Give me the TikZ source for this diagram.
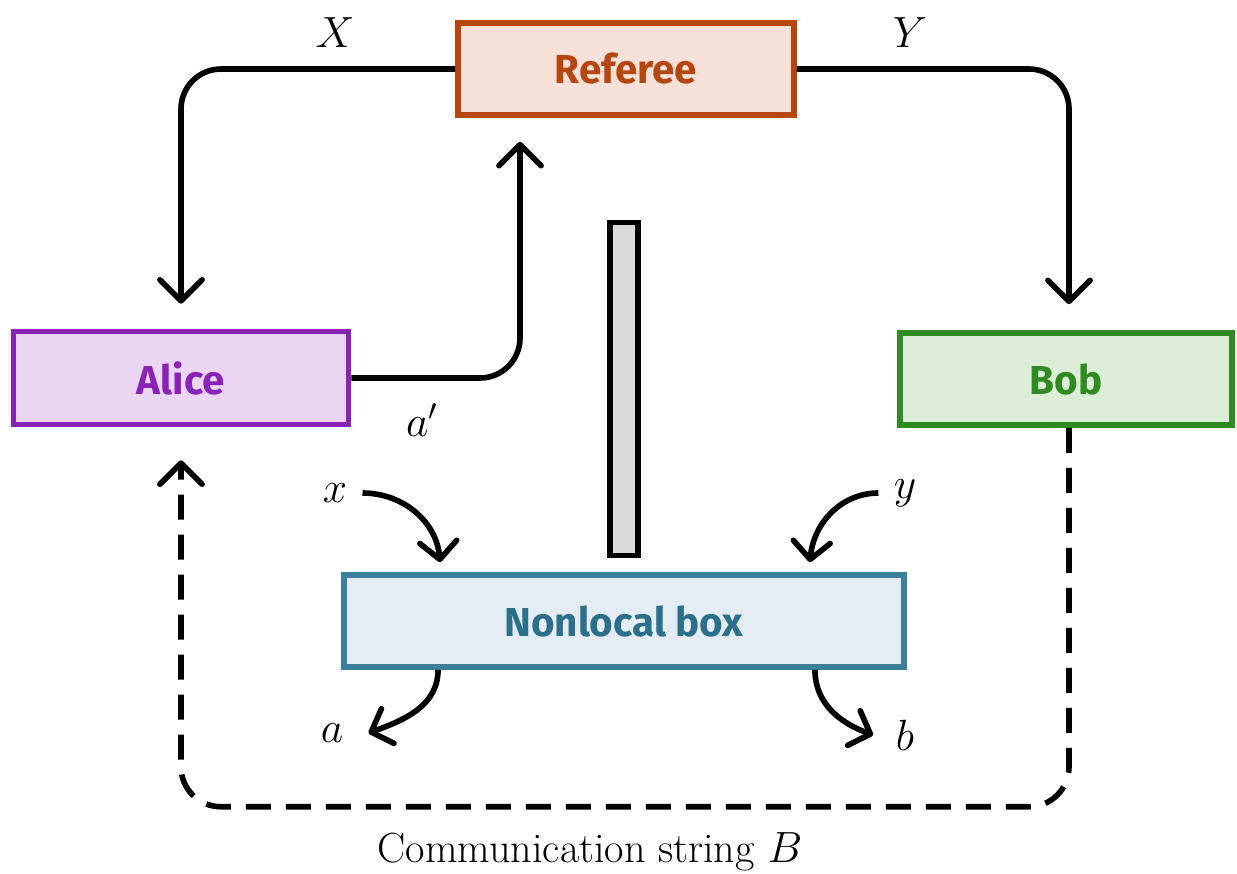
\documentclass[tikz,border=0pt]{standalone}
\usepackage{fontspec}
\usetikzlibrary{arrows.meta}
\newfontfamily\boxfont{Fira Sans}

\definecolor{refdraw}{HTML}{B5460F}
\definecolor{reffill}{HTML}{F6E0D7}
\definecolor{alicedraw}{HTML}{8B22B8}
\definecolor{alicefill}{HTML}{EAD5F2}
\definecolor{bobdraw}{HTML}{2F8A22}
\definecolor{bobfill}{HTML}{DCEDD8}
\definecolor{nldraw}{HTML}{3C7F9B}
\definecolor{nlfill}{HTML}{E2ECF2}
\definecolor{nltext}{HTML}{2C6F8A}

\begin{document}
\begin{tikzpicture}[x=0.02cm, y=-0.02cm,
  party/.style={draw, line width=3.2pt, inner sep=0pt,
    font=\boxfont\bfseries\fontsize{23}{27}\selectfont},
  conn/.style={line width=3.2pt, rounded corners=0.8cm,
    -{Straight Barb[length=12pt,width=24pt,round]}},
  tip/.style={line width=3.2pt,
    -{Straight Barb[length=10pt,width=21pt,round]}},
  lbl/.style={font=\fontsize{24}{28}\selectfont, inner sep=0pt}
]
\useasboundingbox (0,0) rectangle (1237,873);

% players and referee
\node[party, draw=refdraw, fill=reffill, text=refdraw,
  minimum width=6.72cm, minimum height=1.84cm] (ref) at (626,69) {Referee};
\node[party, draw=alicedraw, fill=alicefill, text=alicedraw,
  minimum width=6.7cm, minimum height=1.86cm] (alice) at (181,378) {Alice};
\node[party, draw=bobdraw, fill=bobfill, text=bobdraw,
  minimum width=6.64cm, minimum height=1.84cm] (bob) at (1066,379) {Bob};
\node[party, draw=nldraw, fill=nlfill, text=nltext,
  minimum width=11.2cm, minimum height=1.84cm] (nl) at (624,621) {Nonlocal box};

% separating wall between the parties
\node[draw, line width=3.2pt, fill=black!15, inner sep=0pt,
  minimum width=0.56cm, minimum height=6.66cm] (wall) at (624,389) {};

% questions and answers
\draw[conn] (ref.west) -| ([yshift=0.5cm]alice.north);
\draw[conn] (ref.east) -| ([xshift=0.06cm,yshift=0.52cm]bob.north);
\draw[conn] (alice.east) -| ([shift={(-2.12cm,-0.48cm)}]ref.south);

\node[lbl] (X) at (335,33) {$X$};
\node[lbl] (Y) at (910,33) {$Y$};
\node[lbl] (ap) at (422,420) {$a'$};

% communication from Bob back to Alice
\draw[conn, dash pattern=on 0.5cm off 0.3cm]
  ([xshift=0.06cm]bob.south) -- ++(0,-7.58cm) -| ([yshift=-0.66cm]alice.south);
\node[lbl] (comm) at (590,852) {Communication string $B$};

% box inputs and outputs
\node[lbl] (x) at (335,493) {$x$};
\node[lbl] (y) at (905,493) {$y$};
\node[lbl] (a) at (332,733) {$a$};
\node[lbl] (b) at (905,735) {$b$};

\draw[tip] ([xshift=0.3cm]x.east) to[out=0, in=95] ([shift={(-3.68cm,0.2cm)}]nl.north);
\draw[tip] ([xshift=-0.3cm]y.west) to[out=180, in=85] ([shift={(3.72cm,0.2cm)}]nl.north);
\draw[tip] ([xshift=-3.72cm]nl.south) to[out=-90, in=20] ([xshift=0.5cm]a.east);
\draw[tip] ([xshift=3.82cm]nl.south) to[out=-90, in=160] ([xshift=-0.45cm]b.west);
\end{tikzpicture}
\end{document}
